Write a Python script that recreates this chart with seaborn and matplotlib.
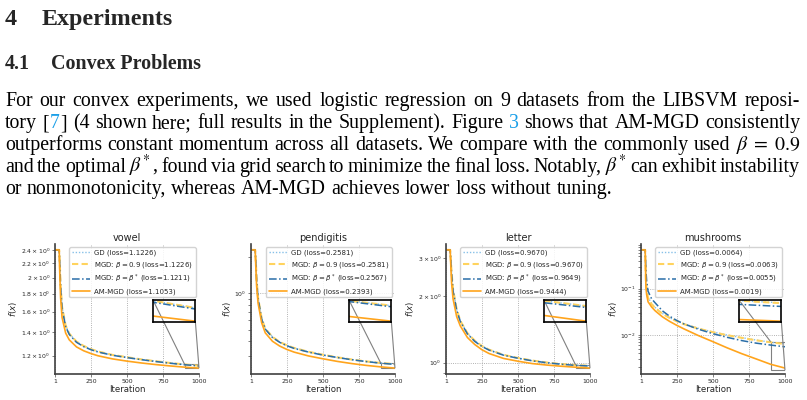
import re
import matplotlib
matplotlib.use("Agg")
import matplotlib.pyplot as plt
import seaborn as sns
from mpl_toolkits.axes_grid1.inset_locator import mark_inset

# ---- data ----
iters = [1, 30, 35, 40, 50, 75, 100, 150, 200, 250, 300, 400, 500, 600, 700, 800, 900, 1000]
datasets = ["vowel", "pendigitis", "letter", "mushrooms"]
methods = ["GD", "MGD: $\\beta = 0.9$", "MGD: $\\beta = \\beta^*$", "AM-MGD"]

vowel_gd = [2.398, 2.398, 2.15, 1.90, 1.65, 1.46, 1.385, 1.315, 1.278, 1.252, 1.232, 1.205, 1.187, 1.170, 1.156, 1.143, 1.132, 1.1226]
vowel_mgd = [2.398, 2.398, 2.15, 1.90, 1.65, 1.46, 1.385, 1.315, 1.278, 1.252, 1.232, 1.205, 1.187, 1.170, 1.156, 1.143, 1.132, 1.1226]
vowel_star = [2.398, 2.398, 2.13, 1.88, 1.63, 1.45, 1.378, 1.309, 1.272, 1.247, 1.228, 1.202, 1.184, 1.168, 1.154, 1.141, 1.130, 1.1211]
vowel_am = [2.398, 2.398, 2.00, 1.75, 1.54, 1.39, 1.33, 1.27, 1.238, 1.216, 1.198, 1.174, 1.157, 1.143, 1.131, 1.121, 1.112, 1.1053]

pend_gd = [2.303, 2.303, 1.80, 1.30, 0.92, 0.62, 0.51, 0.435, 0.395, 0.370, 0.352, 0.327, 0.309, 0.294, 0.282, 0.272, 0.264, 0.2581]
pend_mgd = [2.303, 2.303, 1.80, 1.30, 0.92, 0.62, 0.51, 0.435, 0.395, 0.370, 0.352, 0.327, 0.309, 0.294, 0.282, 0.272, 0.264, 0.2581]
pend_star = [2.303, 2.303, 1.78, 1.28, 0.91, 0.61, 0.505, 0.43, 0.392, 0.367, 0.349, 0.325, 0.307, 0.293, 0.281, 0.271, 0.263, 0.2567]
pend_am = [2.303, 2.303, 1.60, 1.15, 0.83, 0.57, 0.47, 0.40, 0.365, 0.342, 0.325, 0.302, 0.286, 0.272, 0.261, 0.252, 0.245, 0.2393]

letter_gd = [3.258, 3.258, 2.90, 2.55, 2.15, 1.75, 1.55, 1.36, 1.26, 1.19, 1.145, 1.085, 1.050, 1.022, 1.001, 0.985, 0.975, 0.9670]
letter_mgd = [3.258, 3.258, 2.90, 2.55, 2.15, 1.75, 1.55, 1.36, 1.26, 1.19, 1.145, 1.085, 1.050, 1.022, 1.001, 0.985, 0.975, 0.9670]
letter_star = [3.258, 3.258, 2.88, 2.52, 2.12, 1.73, 1.54, 1.35, 1.25, 1.185, 1.14, 1.081, 1.047, 1.019, 0.999, 0.983, 0.972, 0.9649]
letter_am = [3.258, 3.258, 2.70, 2.30, 1.95, 1.62, 1.47, 1.30, 1.21, 1.145, 1.10, 1.045, 1.015, 0.990, 0.975, 0.963, 0.953, 0.9444]

mush_gd = [0.693, 0.693, 0.16, 0.10, 0.066, 0.047, 0.039, 0.029, 0.0235, 0.0198, 0.0172, 0.0138, 0.0115, 0.0099, 0.0087, 0.0077, 0.0069, 0.0064]
mush_mgd = [0.693, 0.693, 0.15, 0.095, 0.063, 0.046, 0.038, 0.0285, 0.0232, 0.0196, 0.0170, 0.0136, 0.0114, 0.0098, 0.0086, 0.0076, 0.0069, 0.0063]
mush_star = [0.693, 0.693, 0.26, 0.15, 0.088, 0.060, 0.049, 0.033, 0.0252, 0.0204, 0.0172, 0.0132, 0.0106, 0.0088, 0.0075, 0.0066, 0.0060, 0.0055]
mush_am = [0.693, 0.693, 0.11, 0.075, 0.052, 0.040, 0.033, 0.0245, 0.0195, 0.016, 0.0134, 0.0096, 0.0071, 0.0052, 0.0039, 0.0030, 0.0023, 0.0019]

curves = {
    "vowel": [vowel_gd, vowel_mgd, vowel_star, vowel_am],
    "pendigitis": [pend_gd, pend_mgd, pend_star, pend_am],
    "letter": [letter_gd, letter_mgd, letter_star, letter_am],
    "mushrooms": [mush_gd, mush_mgd, mush_star, mush_am],
}

colors = ["#86c0e8", "#ffd35e", "#2a6ea8", "#ffa41c"]
styles = [(0, (1, 1.3)), (0, (3, 1.6)), (0, (5, 1.6, 1, 1.6)), "-"]
widths = [1.0, 1.5, 1.1, 1.2]

heading = "Experiments"
subheading = "Convex Problems"
# <...> marks a cross-reference link
para = [
    "For our convex experiments, we used logistic regression on 9 datasets from the LIBSVM reposi-",
    "tory [<7>] (4 shown here; full results in the Supplement). Figure <3> shows that AM-MGD consistently",
    "outperforms constant momentum across all datasets. We compare with the commonly used $\\beta\\;=\\;0.9$",
    "and the optimal $\\beta^{\\!*}$, found via grid search to minimize the final loss. Notably, $\\beta^{\\!*}$ can exhibit instability",
    "or nonmonotonicity, whereas AM-MGD achieves lower loss without tuning.",
]

# ---- figure ----
sns.set_style("ticks")
W, H = 807, 400
fig = plt.figure(figsize=(W / 100, H / 100), dpi=100)
renderer = fig.canvas.get_renderer()
link = "#1a9fe8"
body = dict(family="Liberation Serif", fontsize=14.3, math_fontfamily="stix")


def px_text(x, y, s, **kw):
    return fig.text(x / W, 1 - y / H, s, va="baseline", **kw)


px_text(5, 25, "4", family="Liberation Serif", weight="bold", fontsize=17.3)
px_text(42, 25, heading, family="Liberation Serif", weight="bold", fontsize=17.3)
px_text(5, 69, "4.1", family="Liberation Serif", weight="bold", fontsize=14.4)
px_text(51, 69, subheading, family="Liberation Serif", weight="bold", fontsize=14.4)


def word_parts(word):
    parts = []
    for piece in re.split(r"(<[^>]*>)", word):
        if not piece:
            continue
        if piece.startswith("<"):
            parts.append((piece[1:-1], link))
        else:
            parts.append((piece, "black"))
    return parts


def set_line(line, y, justify, x0=5, x1=800):
    words = re.findall(r"\$[^$]*\$\S*|\S+", line)
    items, wsum = [], []
    for word in words:
        arts = []
        for s, c in word_parts(word):
            t = px_text(0, y, s, color=c, **body)
            arts.append((t, t.get_window_extent(renderer).width + 0.8))
        items.append(arts)
        wsum.append(sum(w for _, w in arts) - 0.8)
    gap = (x1 - x0 - sum(wsum)) / (len(words) - 1) if justify else 5.0
    x = x0
    for arts, w in zip(items, wsum):
        xs = x
        for t, tw in arts:
            t.set_x(xs / W)
            xs += tw
        x += w + gap


for i, line in enumerate(para):
    set_line(line, 106 + 22 * i, i < len(para) - 1)

lefts = [55, 251, 446, 641]
for name, left in zip(datasets, lefts):
    ax = fig.add_axes([left / W, 26 / H, 144 / W, 130 / H])
    ax.set_yscale("log")
    series = curves[name]
    for vals, lab, c, ls, lw in zip(series, methods, colors, styles, widths):
        sns.lineplot(x=iters, y=vals, ax=ax, color=c, linestyle=ls, lw=lw,
                     label=f"{lab} (loss={vals[-1]:.4f})", sort=False, errorbar=None)
    ax.set_xlim(1, 1000)
    ax.set_xticks([1, 250, 500, 750, 1000])
    ax.grid(True, which="major", linestyle=":", color="0.6", lw=0.6)
    ax.tick_params(which="both", labelsize=4.4, length=2, width=0.5, pad=1.5, color="0.3")
    for sp in ["top", "right"]:
        ax.spines[sp].set_visible(False)
    for sp in ["left", "bottom"]:
        ax.spines[sp].set_linewidth(1.2)
        ax.spines[sp].set_color("0.25")
    ax.set_title(name, fontsize=7, pad=2.5)
    ax.set_xlabel("Iteration", fontsize=6.2, labelpad=1)
    ax.set_ylabel("$f(x)$", fontsize=6.2, labelpad=1)
    ax.legend(loc="upper right", fontsize=5.0, handlelength=2.6, handletextpad=0.6,
              borderaxespad=0.45, labelspacing=0.45, framealpha=0.85, edgecolor="0.8")

    # zoomed inset on the last 100 iterations
    axins = ax.inset_axes([0.68, 0.40, 0.295, 0.17])
    for vals, c, ls, lw in zip(series, colors, styles, widths):
        sns.lineplot(x=iters, y=vals, ax=axins, color=c, linestyle=ls, lw=lw,
                     sort=False, errorbar=None, legend=False)
    k = iters.index(900)
    lo = min(min(v[k:]) for v in series)
    hi = max(max(v[k:]) for v in series)
    pad = (hi - lo) * 0.04
    axins.set_xlim(900, 1000)
    axins.set_ylim(lo - pad, hi + pad)
    axins.set_xticks([])
    axins.set_yticks([])
    axins.set_xlabel("")
    axins.set_ylabel("")
    for sp in axins.spines.values():
        sp.set_visible(True)
        sp.set_linewidth(1.2)
        sp.set_color("black")
    mark_inset(ax, axins, loc1=2, loc2=4, fc="none", ec="0.5", lw=0.8)

fig.savefig("out.png", dpi=100)
